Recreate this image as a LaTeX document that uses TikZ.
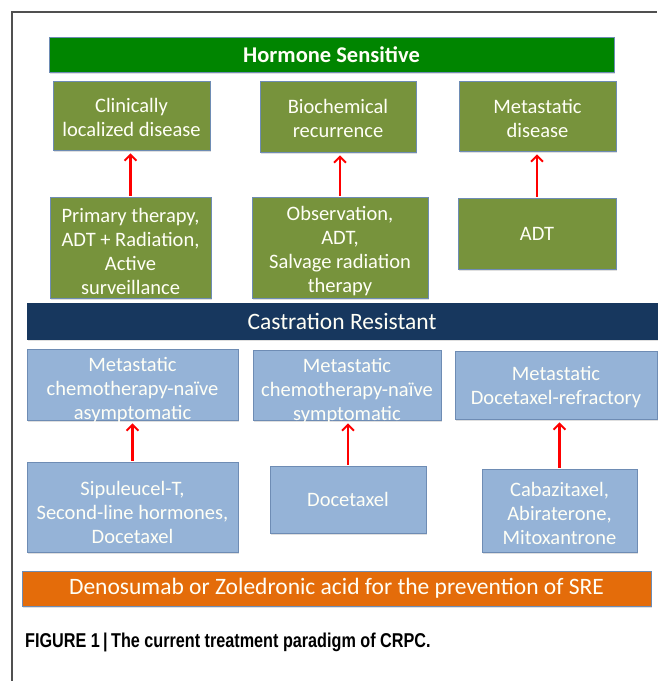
\documentclass[tikz,border=0pt]{standalone}
\usepackage{fontspec}
\setmainfont{Carlito}
\newfontfamily\capfont[FakeStretch=0.81]{Liberation Sans}
\usetikzlibrary{arrows.meta,shadows,calc}
\definecolor{hsgreen}{RGB}{0,133,0}
\definecolor{olive}{RGB}{119,147,60}
\definecolor{navy}{RGB}{23,55,94}
\definecolor{lblue}{RGB}{149,179,215}
\definecolor{orng}{RGB}{228,108,10}
\definecolor{edgeblue}{RGB}{110,140,180}
\definecolor{framegray}{RGB}{80,80,80}
\definecolor{txt}{RGB}{255,255,246}
\newcommand\lowr[1]{\rule{0pt}{#1pt}}
\tikzset{
  boxtext/.style={inner sep=0pt, align=center, text=txt, font=\fontsize{20.5}{24}\selectfont},
  box/.style={draw=edgeblue, line width=0.5pt, boxtext,
    drop shadow={shadow xshift=1pt, shadow yshift=-1.5pt, opacity=0.25}},
  gbox/.style={box, fill=olive},
  bbox/.style={box, fill=lblue},
  bar/.style={box, font=\fontsize{23.5}{26}\selectfont},
  uparrow/.style={draw=red, line width=2.2pt, -{Straight Barb[length=6pt,width=12pt,line width=2pt]}, shorten >=3pt, shorten <=1pt}
}
\begin{document}
\begin{tikzpicture}[x=1pt,y=1pt]
\useasboundingbox (0,0) rectangle (657,-681);
\fill[white] (0,0) rectangle (657,-681);
\draw[framegray, line width=1.1pt] (12,-681) -- (12,-12) -- (657,-12);

\node[bar, fill=hsgreen, minimum width=565, minimum height=35, font=\bfseries\fontsize{22.5}{26}\selectfont] (hs) at (331.5,-54.5) {Hormone Sensitive};

\node[gbox, minimum width=157, minimum height=69] (g1) at (131.5,-115.5) {\lowr{19}Clinically\\localized disease};
\node[gbox, minimum width=156, minimum height=71] (g2) at (338,-116.5) {\lowr{19}Biochemical\\recurrence};
\node[gbox, minimum width=157, minimum height=70] (g3) at (537.5,-116) {\lowr{19}Metastatic\\disease};

\node[gbox, minimum width=161, minimum height=101] (p1) at (130.5,-247.5) {\lowr{22}Primary therapy,\\ADT + Radiation,\\Active\\surveillance};
\node[gbox, minimum width=176, minimum height=101] (p2) at (340,-247.5) {\lowr{22}Observation,\\ADT,\\Salvage radiation\\therapy};
\node[gbox, minimum width=158, minimum height=71] (p3) at (537,-233.5) {ADT};

\draw[uparrow] (p1.north) -- (p1.north |- g1.south);
\draw[uparrow] (p2.north) -- (p2.north |- g2.south);
\draw[uparrow] (p3.north) -- (p3.north |- g3.south);

\node[bar, fill=navy, draw=navy, minimum width=630, minimum height=36] (cr) at (342,-321) {Castration Resistant};

\node[bbox, minimum width=211, minimum height=71,
  label={[boxtext, yshift=-6pt]center:{Metastatic\\chemotherapy-naïve\\asymptomatic}}] (b1) at (132.5,-384.5) {};
\node[bbox, minimum width=188, minimum height=70,
  label={[boxtext, yshift=-6pt]center:{Metastatic\\chemotherapy-naïve\\symptomatic}}] (b2) at (347,-385) {};
\node[bbox, minimum width=202, minimum height=68] (b3) at (556,-385) {\lowr{18}Metastatic\\Docetaxel-refractory};

\node[bbox, minimum width=211, minimum height=90] (d1) at (132.5,-507) {\lowr{25}Sipuleucel-T,\\Second-line hormones,\\Docetaxel};
\node[bbox, minimum width=156, minimum height=67] (d2) at (348,-499.5) {Docetaxel};
\node[bbox, minimum width=155, minimum height=83] (d3) at (559.5,-510.5) {\lowr{21}Cabazitaxel,\\Abiraterone,\\Mitoxantrone};

\draw[uparrow] (d1.north) -- (d1.north |- b1.south);
\draw[uparrow] (d2.north) -- (d2.north |- b2.south);
\draw[uparrow] (d3.north) -- (d3.north |- b3.south);

\node[bar, fill=orng, minimum width=629, minimum height=35] (or) at (336.5,-588.5) {Denosumab or Zoledronic acid for the prevention of SRE};

\node[anchor=base west, inner sep=0pt, font=\capfont\bfseries\fontsize{20}{24}\selectfont] (cap) at (25,-647) {FIGURE 1\,|\,The current treatment paradigm of CRPC.};
\end{tikzpicture}
\end{document}
